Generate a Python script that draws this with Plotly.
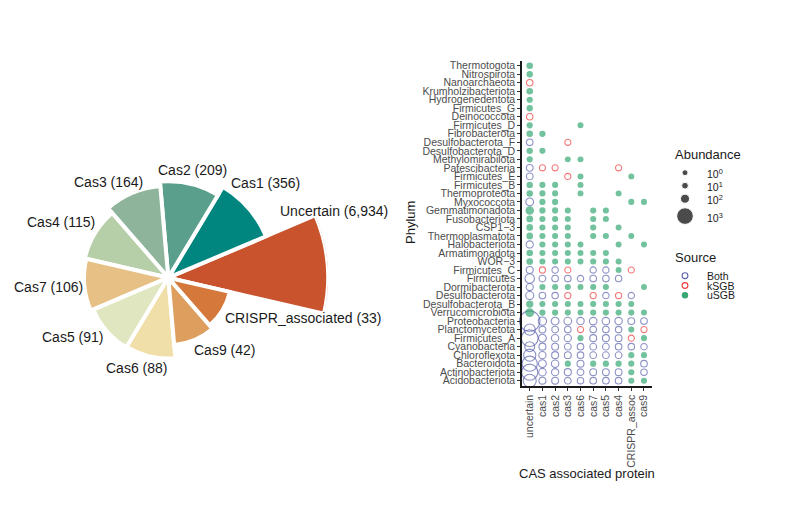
import numpy as np
import plotly.graph_objects as go

W, H = 798, 519
OFF = 8  # page offset of the plot div inside the browser window
FONT = "Liberation Sans, Arial, Helvetica, sans-serif"

# ---------------- data: rose chart ----------------
rose_labels = ["Uncertain", "Cas1", "Cas2", "Cas3", "Cas4", "Cas7",
               "Cas5", "Cas6", "Cas9", "CRISPR_associated"]
rose_counts = [6934, 356, 209, 164, 115, 106, 91, 88, 42, 33]
rose_colors = ["#C9532D", "#00857F", "#5A9F8B", "#8EB59B", "#B7CFA8",
               "#E6C084", "#E0E7C0", "#F1DFA9", "#DE9F5E", "#D5783B"]

# ---------------- data: dot plot ----------------
proteins = ["uncertain", "cas1", "cas2", "cas3", "cas6", "cas7",
            "cas5", "cas4", "CRISPR_assoc", "cas9"]
phyla = ["Thermotogota", "Nitrospirota", "Nanoarchaeota", "Krumholzibacteriota",
         "Hydrogenedentota", "Firmicutes_G", "Deinococcota", "Firmicutes_D",
         "Fibrobacterota", "Desulfobacterota_F", "Desulfobacterota_D",
         "Methylomirabilota", "Patescibacteria", "Firmicutes_E", "Firmicutes_B",
         "Thermoproteota", "Myxococcota", "Gemmatimonadota", "Fusobacteriota",
         "CSP1\u22123", "Thermoplasmatota", "Halobacteriota", "Armatimonadota",
         "WOR\u22123", "Firmicutes_C", "Firmicutes", "Dormibacterota",
         "Desulfobacterota", "Desulfobacterota_B", "Verrucomicrobiota",
         "Proteobacteria", "Planctomycetota", "Firmicutes_A", "Cyanobacteria",
         "Chloroflexota", "Bacteroidota", "Actinobacteriota", "Acidobacteriota"]
# source per protein column: B = Both, K = kSGB, U = uSGB, . = absent
source_codes = [
    "U.........", "U.........", "K.........", "U.........",
    "U.........", "U.........", "K.........", "U...U.....",
    "UU........", "B..K......", "UU........", "U..UU.....",
    "BKK....K..", "B..KU...U.", "UUU.U.....", "UUU.U..U..",
    "BUU.....UU", "UUUU.UU...", "UUUU.UU...", "UUUU.U.U..",
    "UUUU.UU.U.", "BUUUU..U.U", "UUUUUUU...", "UUUUUUUU..",
    "BKBK.BBUK.", "BBBBBBBB..", "BUUUUUU..U", "BBBK.KBKB.",
    "UUUUUUUUU.", "UUUUUUUUUU", "BBBBBBBBBB", "BBBBKBBBUK",
    "BBBBUBBBKU", "BBBBBBBBBB", "BBBBBBBBUU", "BBBUBUUUUB",
    "BBBBBBBBUB", "BBBBBBBBUU",
]
# abundance of each present cell, in column order
abundance = [
    [8], [5], [6], [9],
    [3], [4], [6], [3, 1],
    [7, 4], [8, 2], [5, 2], [3, 1, 1],
    [12, 2, 2, 2], [10, 2, 1, 1], [6, 2, 2, 1], [6, 2, 2, 1, 1],
    [40, 3, 3, 2, 2], [70, 3, 3, 2, 2, 2], [12, 2, 2, 2, 2, 2], [10, 2, 2, 2, 2, 1],
    [10, 2, 2, 2, 2, 2, 1], [20, 2, 2, 2, 1, 1, 1], [10, 2, 2, 2, 1, 2, 2], [10, 2, 2, 2, 1, 2, 2, 1],
    [15, 3, 5, 2, 4, 4, 1, 2], [120, 10, 8, 8, 5, 8, 8, 6], [20, 2, 2, 2, 1, 2, 2, 1],
    [50, 8, 6, 3, 3, 5, 3, 4],
    [25, 2, 2, 2, 1, 2, 2, 2, 1], [90, 3, 3, 2, 1, 2, 2, 2, 2, 1],
    [1800, 60, 40, 35, 25, 30, 30, 25, 12, 8], [250, 12, 10, 8, 2, 8, 8, 6, 2, 2],
    [1000, 40, 25, 20, 2, 15, 15, 12, 2, 2], [150, 15, 12, 10, 8, 10, 10, 8, 6, 5],
    [350, 20, 15, 12, 8, 10, 10, 10, 2, 2], [750, 40, 25, 3, 15, 3, 3, 3, 2, 8],
    [900, 30, 20, 18, 10, 12, 12, 12, 2, 6], [450, 15, 12, 10, 6, 8, 8, 8, 2, 2],
]
source_order = ["B", "K", "U"]
source_names = ["Both", "kSGB", "uSGB"]
source_colors = ["#5B63AD", "#EE3A3A", "#36A874"]
abundance_breaks = [1, 10, 100, 1000]
abundance_labels = ["10<sup>0</sup>", "10<sup>1</sup>", "10<sup>2</sup>", "10<sup>3</sup>"]


def dot_size(v):
    return 5.6 + 0.35 * np.sqrt(v)


def px(x):
    return (x - OFF) / W


def py(y):
    return 1 - (y - OFF) / H


fig = go.Figure()

# ---------------- rose chart ----------------
n = len(rose_counts)
step = 360.0 / n
fig.add_trace(go.Barpolar(
    r=np.log10(rose_counts), theta=[step * i for i in range(n)], width=[step] * n,
    marker=dict(color=rose_colors, line=dict(color="white", width=4)),
    subplot="polar", showlegend=False, hoverinfo="skip"))

cx, cy, rad, px_per_decade = 168.3, 277.7, 160.0, 41.6
polar_dom_x = [px(cx - rad), px(cx + rad)]
polar_dom_y = [py(cy + rad), py(cy - rad)]

# label anchors (pixel positions, anchor side)
label_pos = [(278, 211, "left"), (229, 183, "left"), (192, 170, "center"),
             (108.5, 182, "center"), (96.7, 222, "right"), (85, 287, "right"),
             (105, 337, "right"), (136.5, 368, "center"), (192, 350, "left"),
             (223, 318, "left")]
annotations = []
for lab, cnt, (lx, ly, anc) in zip(rose_labels, rose_counts, label_pos):
    annotations.append(dict(
        text=f"{lab} ({cnt:,})", x=px(lx), y=py(ly), xref="paper", yref="paper",
        xanchor=anc, yanchor="middle", showarrow=False,
        font=dict(family=FONT, size=14, color="#1A1A1A")))

# ---------------- dot plot ----------------
nrow = len(phyla)
for code, name, col in zip(source_order, source_names, source_colors):
    xs, ys, ss = [], [], []
    for i, (codes, vals) in enumerate(zip(source_codes, abundance)):
        k = 0
        for j, c in enumerate(codes):
            if c == ".":
                continue
            if c == code:
                xs.append(j)
                ys.append(nrow - 1 - i)
                ss.append(dot_size(vals[k]))
            k += 1
    is_open = code != "U"
    fig.add_trace(go.Scatter(
        x=xs, y=ys, mode="markers", xaxis="x", yaxis="y", name=name,
        showlegend=False, hoverinfo="skip", cliponaxis=False,
        marker=dict(size=ss, color=col, symbol="circle-open" if is_open else "circle",
                    line=dict(width=1.1 if is_open else 0, color=col))))

# ---------------- manual legends (aux pixel axis) ----------------
leg_x = 685
ab_sizes = [dot_size(v) for v in abundance_breaks]
ab_y = []
yy = 172.7
for k, s in enumerate(ab_sizes):
    if k > 0:
        yy += max(13, (ab_sizes[k - 1] + s) / 2 + 4.5)
    ab_y.append(yy)
fig.add_trace(go.Scatter(
    x=[leg_x] * len(ab_sizes), y=ab_y, mode="markers", xaxis="x3", yaxis="y3",
    marker=dict(size=ab_sizes, color="black"), showlegend=False, hoverinfo="skip"))
src_y = [275.7 + 9.8 * k for k in range(len(source_names))]
for k, (code, col) in enumerate(zip(source_order, source_colors)):
    is_open = code != "U"
    fig.add_trace(go.Scatter(
        x=[leg_x], y=[src_y[k]], mode="markers", xaxis="x3", yaxis="y3",
        marker=dict(size=5.8 if is_open else 6.4, color=col,
                    symbol="circle-open" if is_open else "circle",
                    line=dict(width=1.1 if is_open else 0, color=col)),
        showlegend=False, hoverinfo="skip"))

annotations.append(dict(text="Abundance", x=px(672.5), y=py(154), xref="paper", yref="paper",
                        xanchor="left", yanchor="middle", showarrow=False,
                        font=dict(family=FONT, size=13, color="#1A1A1A")))
for lab, yv in zip(abundance_labels, ab_y):
    annotations.append(dict(text=lab, x=px(705), y=py(yv + 1), xref="paper", yref="paper",
                            xanchor="left", yanchor="middle", showarrow=False,
                            font=dict(family=FONT, size=10.5, color="#1A1A1A")))
annotations.append(dict(text="Source", x=px(672.5), y=py(257.7), xref="paper", yref="paper",
                        xanchor="left", yanchor="middle", showarrow=False,
                        font=dict(family=FONT, size=13, color="#1A1A1A")))
for lab, yv in zip(source_names, src_y):
    annotations.append(dict(text=lab, x=px(705), y=py(yv), xref="paper", yref="paper",
                            xanchor="left", yanchor="middle", showarrow=False,
                            font=dict(family=FONT, size=10.5, color="#1A1A1A")))

# axis titles
annotations.append(dict(text="Phylum", x=px(410), y=py(223), xref="paper", yref="paper",
                        textangle=-90, xanchor="center", yanchor="middle", showarrow=False,
                        font=dict(family=FONT, size=13, color="#1A1A1A")))
annotations.append(dict(text="CAS associated protein", x=px(586.5), y=py(473), xref="paper",
                        yref="paper", xanchor="center", yanchor="middle", showarrow=False,
                        font=dict(family=FONT, size=13, color="#1A1A1A")))

axis_common = dict(showgrid=False, zeroline=False, showline=True, linecolor="#1A1A1A",
                   linewidth=1.6, ticks="outside", ticklen=3, tickwidth=1, automargin=False,
                   tickcolor="#333333", tickfont=dict(family=FONT, size=10.5, color="#4D4D4D"))

fig.update_layout(
    template="none",
    width=W, height=H, margin=dict(l=0, r=0, t=0, b=0, pad=0), autosize=False,
    paper_bgcolor="white", plot_bgcolor="rgba(0,0,0,0)",
    font=dict(family=FONT), showlegend=False,
    polar=dict(domain=dict(x=polar_dom_x, y=polar_dom_y), bgcolor="rgba(0,0,0,0)",
               radialaxis=dict(range=[0, rad / px_per_decade], visible=False),
               angularaxis=dict(visible=False, rotation=5, direction="counterclockwise")),
    xaxis=dict(domain=[px(522.1), px(651.6)], range=[-0.6, len(proteins) - 0.4],
               tickmode="array", tickvals=list(range(len(proteins))), ticktext=proteins,
               tickangle=-90, anchor="y", **axis_common),
    yaxis=dict(domain=[py(385.8), py(60.6)], range=[-0.6, nrow - 0.4],
               tickmode="array", tickvals=list(range(nrow)), ticktext=phyla[::-1],
               anchor="x", **axis_common),
    xaxis3=dict(domain=[0, 1], range=[OFF, W + OFF], visible=False, anchor="y3",
                fixedrange=True, automargin=False),
    yaxis3=dict(domain=[0, 1], range=[H + OFF, OFF], visible=False, anchor="x3",
                fixedrange=True, automargin=False),
    annotations=annotations,
)

fig.write_html("out.html", config={"displayModeBar": False})
